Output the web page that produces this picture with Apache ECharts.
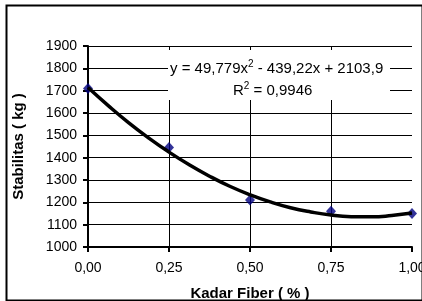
<!DOCTYPE html>
<html>
<head>
<meta charset="utf-8">
<script src="https://cdn.jsdelivr.net/npm/echarts@6/dist/echarts.min.js"></script>
<style>
html,body{margin:0;padding:0;background:#fff;}
#chart{width:422px;height:301px;}
</style>
</head>
<body>
<div id="chart"></div>
<script>
// Measured data points
var kadarFiber = [0, 0.25, 0.5, 0.75, 1.0];
var stabilitas = [1710, 1445, 1210, 1160, 1150];

// Trend line (polynomial fit)
var trendX = [0, 0.0625, 0.125, 0.1875, 0.25, 0.3125, 0.375, 0.4375, 0.5, 0.5625, 0.625, 0.6875, 0.75, 0.8125, 0.875, 0.9375, 1.0];
var trendY = [1714, 1633, 1557, 1488, 1425, 1368, 1317, 1272, 1234, 1202, 1176, 1157, 1143, 1136, 1135, 1141, 1152];

var xTickLabels = ['0,00', '0,25', '0,50', '0,75', '1,00'];
var yTicks = [1000, 1100, 1200, 1300, 1400, 1500, 1600, 1700, 1800, 1900];

var equationText = 'y = 49,779x{sup|2} - 439,22x + 2103,9';
var r2Text = 'R{sup|2} = 0,9946';

var FONT = '"Liberation Sans", Arial, sans-serif';

var chart = echarts.init(document.getElementById('chart'), null, {renderer: 'canvas'});

var pointData = kadarFiber.map(function (x, i) { return [x, stabilitas[i]]; });
var trendData = trendX.map(function (x, i) { return [x, trendY[i]]; });

chart.setOption({
  animation: false,
  backgroundColor: '#fff',
  grid: {left: 88, right: 10, top: 46, bottom: 54, containLabel: false, outerBoundsMode: 'none'},
  xAxis: {
    type: 'value',
    min: 0, max: 1, interval: 0.25,
    name: 'Kadar Fiber ( % )',
    nameLocation: 'middle',
    nameGap: 39,
    nameTextStyle: {fontFamily: FONT, fontWeight: 'bold', fontSize: 15, color: '#000'},
    axisLine: {show: true, onZero: false, lineStyle: {color: '#000', width: 2}},
    axisTick: {show: true, inside: false, length: 5, lineStyle: {color: '#000', width: 2}},
    axisLabel: {
      fontFamily: FONT, fontSize: 14, color: '#000', margin: 14,
      formatter: function (v) { return xTickLabels[Math.round(v / 0.25)]; }
    },
    splitLine: {show: true, showMinLine: false, showMaxLine: false, lineStyle: {color: '#000', width: 1}}
  },
  yAxis: {
    type: 'value',
    min: yTicks[0], max: yTicks[yTicks.length - 1], interval: 100,
    name: 'Stabilitas ( kg )',
    nameLocation: 'middle',
    nameGap: 62,
    nameRotate: 90,
    nameTextStyle: {fontFamily: FONT, fontWeight: 'bold', fontSize: 15, color: '#000'},
    axisLine: {show: true, onZero: false, lineStyle: {color: '#000', width: 2}},
    axisTick: {show: true, inside: false, length: 5, lineStyle: {color: '#000', width: 2}},
    axisLabel: {
      fontFamily: FONT, fontSize: 14, color: '#000', margin: 11,
      formatter: function (v) { return String(v); }
    },
    splitLine: {show: true, showMinLine: false, lineStyle: {color: '#000', width: 1}}
  },
  series: [
    {
      type: 'scatter',
      data: pointData,
      symbol: 'diamond',
      symbolSize: [10, 11],
      itemStyle: {color: '#000080'},
      z: 3
    },
    {
      type: 'line',
      data: trendData,
      smooth: true,
      showSymbol: false,
      symbol: 'none',
      lineStyle: {color: '#000', width: 3.5},
      z: 4
    }
  ],
  graphic: [
    {
      type: 'rect',
      left: 4, top: 3,
      shape: {width: 416, height: 295},
      style: {fill: 'none', stroke: '#000', lineWidth: 2},
      z: 100
    },
    {
      type: 'rect',
      left: 168, top: 50,
      shape: {width: 222, height: 50},
      style: {fill: '#fff'},
      z: 5
    },
    {
      type: 'text',
      left: 170, top: 59,
      style: {
        text: equationText,
        fontFamily: FONT, fontSize: 15, fill: '#000',
        rich: {sup: {fontSize: 10, fontFamily: FONT, verticalAlign: 'top', padding: [0, 0, 9, 0]}}
      },
      z: 6
    },
    {
      type: 'text',
      left: 233, top: 81,
      style: {
        text: r2Text,
        fontFamily: FONT, fontSize: 15, fill: '#000',
        rich: {sup: {fontSize: 10, fontFamily: FONT, verticalAlign: 'top', padding: [0, 0, 9, 0]}}
      },
      z: 6
    }
  ]
});
</script>
</body>
</html>
